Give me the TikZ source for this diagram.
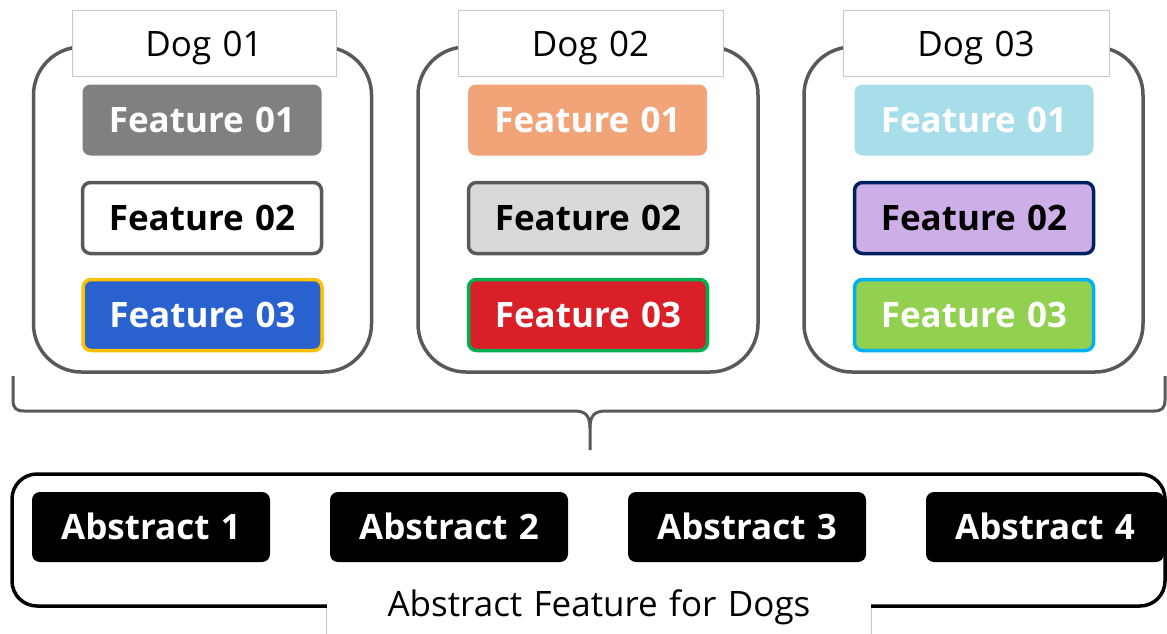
\documentclass[tikz,border=0pt]{standalone}
\usepackage{fontspec}
\setmainfont{Open Sans}[WordSpace=1.25]
\definecolor{dgray}{HTML}{595959}
\definecolor{lgray}{HTML}{C8C8C8}
\definecolor{fgray}{HTML}{808080}
\definecolor{fblue}{HTML}{2962CE}
\definecolor{fgold}{HTML}{FFC000}
\definecolor{fsalmon}{HTML}{F2A479}
\definecolor{flight}{HTML}{D9D9D9}
\definecolor{fred}{HTML}{DA1F28}
\definecolor{fgreen}{HTML}{00B050}
\definecolor{fsky}{HTML}{A7DEEA}
\definecolor{flav}{HTML}{CDAEE6}
\definecolor{fnavy}{HTML}{002060}
\definecolor{flime}{HTML}{92D050}
\definecolor{fcyan}{HTML}{00B0F0}
\begin{document}
\begin{tikzpicture}[x=1pt,y=-1pt,
  dogbox/.style={draw=dgray, line width=3.5pt, rounded corners=48pt, minimum width=338pt, minimum height=325pt, inner sep=0pt},
  doglabel/.style={draw=lgray, line width=0.8pt, fill=white, minimum width=264pt, minimum height=66pt, inner sep=0pt, text height=25pt, text depth=0pt, font=\fontsize{35}{40}\selectfont},
  feat/.style={rounded corners=8pt, minimum width=239pt, minimum height=71pt, inner sep=0pt, line width=3.5pt, text height=25pt, text depth=0pt, font=\fontsize{35}{40}\selectfont\bfseries},
  absbox/.style={fill=black, text=white, rounded corners=8pt, minimum width=238pt, minimum height=70pt, inner sep=0pt, text height=25pt, text depth=0pt, font=\fontsize{35}{40}\selectfont\bfseries},
  container/.style={draw=black, line width=3.5pt, rounded corners=25pt, minimum width=1153pt, minimum height=132pt, inner sep=0pt},
  bracestyle/.style={draw=dgray, line width=3pt},
]
\useasboundingbox (0,0) rectangle (1167,633);
% Dog boxes
\node[dogbox] (d1) at (202.5,209.5) {};
\node[dogbox, minimum width=340pt] (d2) at (588,209.5) {};
\node[dogbox, minimum width=339pt] (d3) at (973.5,209.5) {};
\node[doglabel] (l1) at (204,43.5) {Dog 01};
\node[doglabel, minimum width=265pt] (l2) at (590.5,43.5) {Dog 02};
\node[doglabel, minimum width=266pt] (l3) at (976,43.5) {Dog 03};
% Dog 01 features
\node[feat, fill=fgray, text=white] (a1) at (202,120) {Feature 01};
\node[feat, draw=dgray, fill=white, text=black] (a2) at (202,218) {Feature 02};
\node[feat, draw=fgold, fill=fblue, text=white] (a3) at (202.5,315) {Feature 03};
% Dog 02 features
\node[feat, fill=fsalmon, text=white] (b1) at (587.5,120) {Feature 01};
\node[feat, draw=dgray, fill=flight, text=black] (b2) at (588,218) {Feature 02};
\node[feat, draw=fgreen, fill=fred, text=white] (b3) at (588,315) {Feature 03};
% Dog 03 features
\node[feat, fill=fsky, text=white] (c1) at (974,120) {Feature 01};
\node[feat, draw=fnavy, fill=flav, text=black] (c2) at (974,218) {Feature 02};
\node[feat, draw=fcyan, fill=flime, text=white] (c3) at (974,315) {Feature 03};
% Brace
\draw[bracestyle] (13,376) -- (13,400) .. controls (13,408) and (16,411) .. (24,411)
  -- (574,411) .. controls (585,411) and (590,415) .. (590,428) -- (590,450);
\draw[bracestyle] (590,428) .. controls (590,415) and (595,411) .. (606,411)
  -- (1154,411) .. controls (1162,411) and (1165,408) .. (1165,400) -- (1165,376);
% Bottom container
\node[container] (cont) at (588.5,540) {};
\node[absbox] (s1) at (151,527) {Abstract 1};
\node[absbox] (s2) at (449,527) {Abstract 2};
\node[absbox] (s3) at (747,527) {Abstract 3};
\node[absbox] (s4) at (1045,527) {Abstract 4};
\node[fill=white, minimum width=544pt, minimum height=70pt, inner sep=0pt, text height=25pt, text depth=0pt, font=\fontsize{35}{40}\selectfont] (lbl) at (599,604) {Abstract Feature for Dogs};
\draw[lgray, line width=0.8pt] (lbl.west |- cont.south) -- (lbl.south west);
\draw[lgray, line width=0.8pt] (lbl.east |- cont.south) -- (lbl.south east);
\end{tikzpicture}
\end{document}
